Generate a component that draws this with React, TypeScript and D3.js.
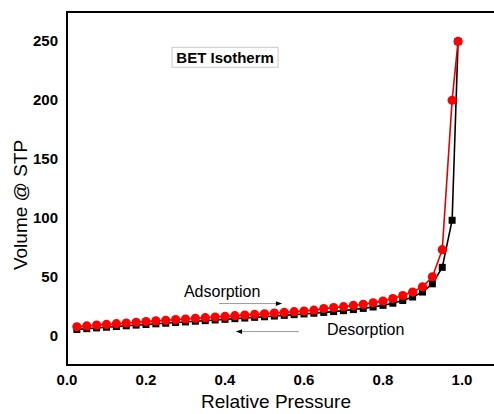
import React from 'react';
import * as d3 from 'd3';

// relative pressure (P/P0) of each measurement point
const pressure = [
  0.025, 0.05, 0.075, 0.1, 0.125, 0.15, 0.175, 0.2, 0.225, 0.25,
  0.275, 0.3, 0.325, 0.35, 0.375, 0.4, 0.425, 0.45, 0.475, 0.5,
  0.525, 0.55, 0.575, 0.6, 0.625, 0.65, 0.675, 0.7, 0.725, 0.75,
  0.775, 0.8, 0.825, 0.85, 0.875, 0.9, 0.925, 0.95, 0.975, 0.99,
];

// adsorption branch (red circles)
const adsorption = [
  7.5, 8.2, 8.9, 9.5, 10.1, 10.7, 11.3, 11.9, 12.5, 13.0,
  13.6, 14.1, 14.7, 15.2, 15.8, 16.3, 16.9, 17.4, 18.0, 18.5,
  19.1, 19.7, 20.3, 20.9, 21.6, 23.0, 23.8, 24.6, 25.6, 26.6,
  27.8, 29.4, 31.5, 34.0, 37.0, 41.5, 50.0, 73.0, 200.0, 250.0,
];

// desorption branch (black squares)
const desorption = [
  5.2, 5.9, 6.5, 7.1, 7.7, 8.3, 8.9, 9.4, 10.0, 10.5,
  11.1, 11.6, 12.2, 12.7, 13.3, 13.8, 14.4, 14.9, 15.5, 16.0,
  16.6, 17.2, 17.8, 18.4, 19.0, 19.7, 20.4, 21.2, 22.1, 23.1,
  24.3, 25.7, 27.5, 29.8, 32.8, 37.0, 44.0, 58.0, 98.0, 250.0,
];

const xTicks = [0, 0.2, 0.4, 0.6, 0.8, 1.0];
const yTicks = [0, 50, 100, 150, 200, 250];

const W = 494;
const H = 414;
const margin = { left: 67, top: 12, bottom: 49 };

export default function App() {
  const x = d3.scaleLinear().domain([0, 1.1]).range([margin.left, margin.left + 434.5]);
  const y = d3.scaleLinear().domain([-25, 275]).range([H - margin.bottom, margin.top]);

  const line = d3.line<number>()
    .x((_, i) => x(pressure[i]))
    .y(d => y(d));

  const font = '"Liberation Sans", Arial, sans-serif';
  const x0 = x(0);
  const x1 = x(1.1);
  const yTop = y(275);
  const yBot = y(-25);

  return (
    <svg width={W} height={H} style={{ position: 'absolute', left: 0, top: 0, background: '#fff' }}
      fontFamily={font}>
      <defs>
        <marker id="head" viewBox="0 0 10 10" refX="10" refY="5" markerWidth="7" markerHeight="6"
          orient="auto-start-reverse" markerUnits="userSpaceOnUse">
          <path d="M0,1 L10,5 L0,9 Z" fill="#000" />
        </marker>
      </defs>

      {/* frame */}
      <rect x={x0} y={yTop} width={x1 - x0} height={yBot - yTop} fill="none" stroke="#000" strokeWidth={2} />

      {/* tick labels */}
      {xTicks.map(t => (
        <text key={'x' + t} x={x(t)} y={yBot + 20} textAnchor="middle" fontSize={15} fontWeight="bold">
          {t.toFixed(1)}
        </text>
      ))}
      {yTicks.map(t => (
        <text key={'y' + t} x={x0 - 9} y={y(t) + 5} textAnchor="end" fontSize={15} fontWeight="bold">
          {t}
        </text>
      ))}

      {/* axis titles */}
      <text x={276} y={408} textAnchor="middle" fontSize={19}>Relative Pressure</text>
      <text transform={`translate(27,205) rotate(-90)`} textAnchor="middle" fontSize={19}>Volume @ STP</text>

      {/* title box */}
      <rect x={x(0.266)} y={y(245)} width={106} height={20} fill="#fff" stroke="#c8c8c8" strokeWidth={1} />
      <text x={x(0.266) + 53} y={y(245) + 16} textAnchor="middle" fontSize={15} fontWeight="bold">BET Isotherm</text>

      {/* desorption */}
      <path d={line(desorption) || ''} fill="none" stroke="#000" strokeWidth={1.6} />
      {desorption.map((v, i) => (
        <rect key={'d' + i} x={x(pressure[i]) - 3.5} y={y(v) - 3.5} width={7} height={7} fill="#000" />
      ))}

      {/* adsorption */}
      <path d={line(adsorption) || ''} fill="none" stroke="#e00000" strokeWidth={1.6} />
      {adsorption.map((v, i) => (
        <circle key={'a' + i} cx={x(pressure[i])} cy={y(v)} r={4.6} fill="#ff0000" />
      ))}

      {/* annotations */}
      <text x={x(0.296)} y={y(33)} fontSize={16}>Adsorption</text>
      <line x1={x(0.385)} x2={x(0.544)} y1={y(27.2)} y2={y(27.2)} stroke="#999" strokeWidth={1}
        markerEnd="url(#head)" />
      <text x={x(0.658)} y={y(0.8)} fontSize={16}>Desorption</text>
      <line x1={x(0.587)} x2={x(0.428)} y1={y(3.4)} y2={y(3.4)} stroke="#999" strokeWidth={1}
        markerEnd="url(#head)" />
    </svg>
  );
}
